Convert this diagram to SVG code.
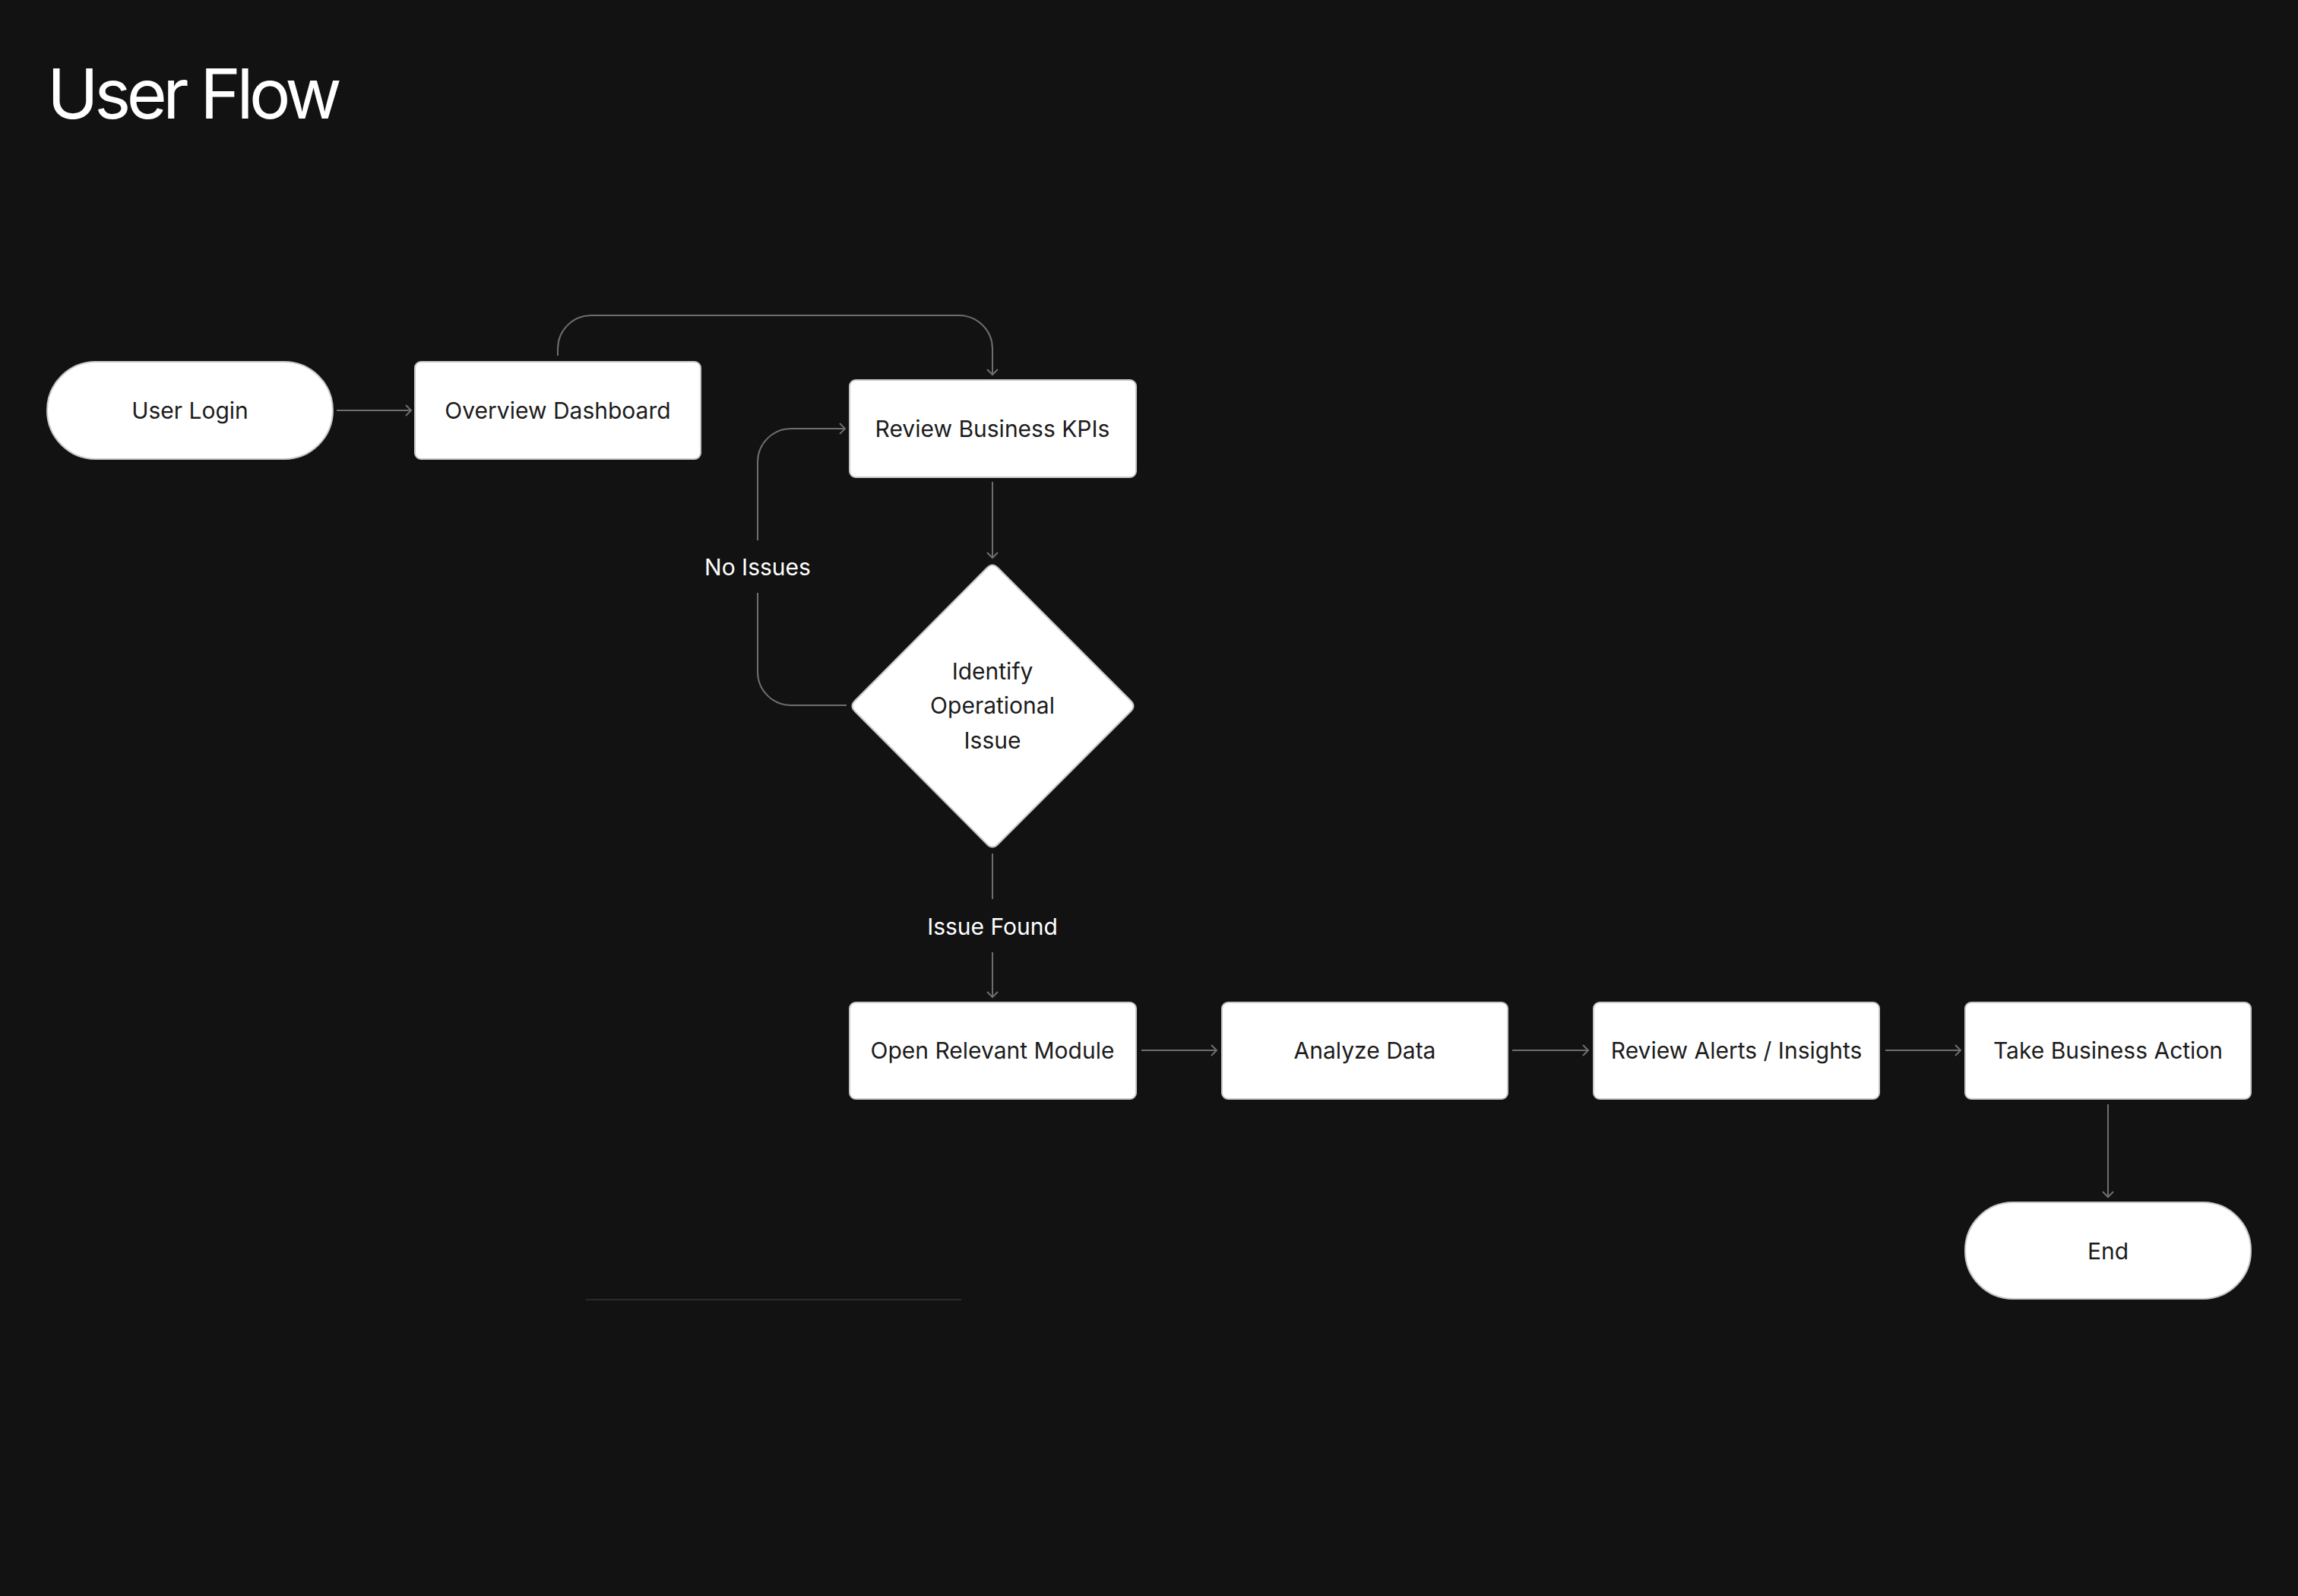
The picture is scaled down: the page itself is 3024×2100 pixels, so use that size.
<svg xmlns="http://www.w3.org/2000/svg" width="3024" height="2100" viewBox="0 0 3024 2100">
  <style>
    .node { fill: #ffffff; stroke: #c8c8c8; stroke-width: 2; }
    .lbl { font-family: Inter, "Noto Sans", "Liberation Sans", sans-serif; font-size: 30px; fill: #1c1c1c; text-anchor: middle; dominant-baseline: central; }
    .elbl { font-family: Inter, "Noto Sans", "Liberation Sans", sans-serif; font-size: 30px; fill: #ffffff; text-anchor: middle; dominant-baseline: central; }
    .conn { fill: none; stroke: #6e6e6e; stroke-width: 2; }
    .title { font-family: Inter, "Noto Sans", "Liberation Sans", sans-serif; font-size: 91px; font-weight: 400; fill: #ffffff; letter-spacing: -5.5px; }
  </style>
  <defs>
    <marker id="arrow" markerUnits="userSpaceOnUse" markerWidth="20" markerHeight="20" refX="10" refY="10" orient="auto">
      <path d="M3,3 L10,10 L3,17" fill="none" stroke="#6e6e6e" stroke-width="2"/>
    </marker>
  </defs>
  <rect x="0" y="0" width="3024" height="2100" fill="#121212"/>

  <text class="title" x="62" y="156">User Flow</text>

  <g id="connectors">
    <path class="conn" d="M443,540 H541" marker-end="url(#arrow)"/>
    <path class="conn" d="M734,468 V459 A44,44 0 0 1 778,415 H1262 A44,44 0 0 1 1306,459 V493" marker-end="url(#arrow)"/>
    <path class="conn" d="M1306,634 V734" marker-end="url(#arrow)"/>
    <path class="conn" d="M1114,928 H1041 A44,44 0 0 1 997,884 V780"/>
    <path class="conn" d="M997,711 V608 A44,44 0 0 1 1041,564 H1112" marker-end="url(#arrow)"/>
    <path class="conn" d="M1306,1123 V1183"/>
    <path class="conn" d="M1306,1253 V1312" marker-end="url(#arrow)"/>
    <path class="conn" d="M1502,1382 H1601" marker-end="url(#arrow)"/>
    <path class="conn" d="M1990,1382 H2090" marker-end="url(#arrow)"/>
    <path class="conn" d="M2481,1382 H2580" marker-end="url(#arrow)"/>
    <path class="conn" d="M2774,1453 V1575" marker-end="url(#arrow)"/>
    <text class="elbl" x="997" y="746">No Issues</text>
    <text class="elbl" x="1306" y="1219">Issue Found</text>
  </g>

  <g id="user-login">
    <rect class="node" x="62" y="476" width="376" height="128" rx="64" ry="64"/>
    <text class="lbl" x="250" y="540">User Login</text>
  </g>
  <g id="overview-dashboard">
    <rect class="node" x="546" y="476" width="376" height="128" rx="8" ry="8"/>
    <text class="lbl" x="734" y="540">Overview Dashboard</text>
  </g>
  <g id="review-kpis">
    <rect class="node" x="1118" y="500" width="377" height="128" rx="8" ry="8"/>
    <text class="lbl" x="1306" y="564">Review Business KPIs</text>
  </g>
  <g id="identify-issue">
    <path class="node" d="M1313,747 L1488,922 Q1495,929 1488,936 L1313,1111 Q1306,1118 1299,1111 L1125,936 Q1118,929 1125,922 L1299,747 Q1306,740 1313,747 Z"/>
    <text class="lbl" x="1306" y="883">Identify</text>
    <text class="lbl" x="1306" y="928">Operational</text>
    <text class="lbl" x="1306" y="974">Issue</text>
  </g>
  <g id="open-module">
    <rect class="node" x="1118" y="1319" width="377" height="127" rx="8" ry="8"/>
    <text class="lbl" x="1306" y="1382">Open Relevant Module</text>
  </g>
  <g id="analyze-data">
    <rect class="node" x="1608" y="1319" width="376" height="127" rx="8" ry="8"/>
    <text class="lbl" x="1796" y="1382">Analyze Data</text>
  </g>
  <g id="review-alerts">
    <rect class="node" x="2097" y="1319" width="376" height="127" rx="8" ry="8"/>
    <text class="lbl" x="2285" y="1382">Review Alerts / Insights</text>
  </g>
  <g id="take-action">
    <rect class="node" x="2586" y="1319" width="376" height="127" rx="8" ry="8"/>
    <text class="lbl" x="2774" y="1382">Take Business Action</text>
  </g>
  <g id="end">
    <rect class="node" x="2586" y="1582" width="376" height="127" rx="63" ry="63"/>
    <text class="lbl" x="2774" y="1646">End</text>
  </g>

  <line x1="771" y1="1710" x2="1265" y2="1710" stroke="#2a2a2a" stroke-width="2"/>
</svg>
